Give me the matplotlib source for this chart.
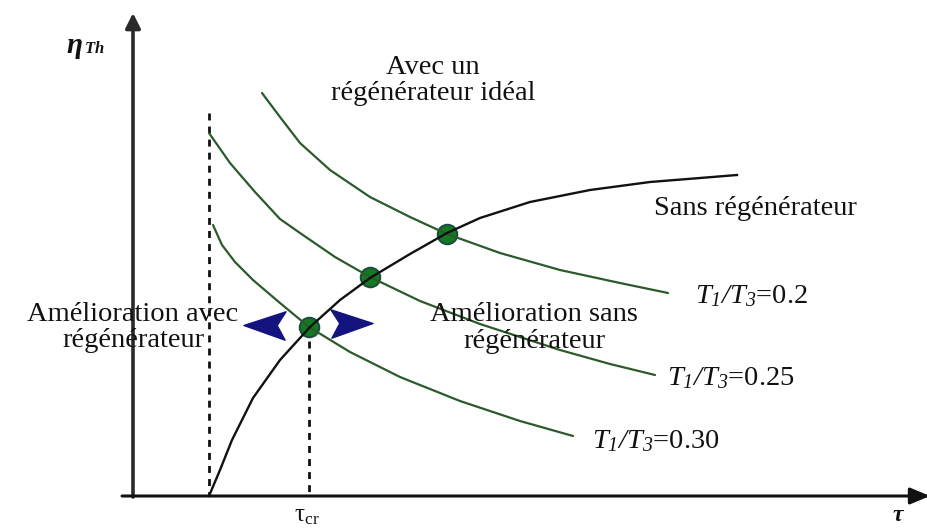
import matplotlib
matplotlib.use("Agg")
import matplotlib.pyplot as plt
from matplotlib.path import Path

plt.rcParams['font.family'] = ['Liberation Serif', 'DejaVu Serif']
plt.rcParams['mathtext.fontset'] = 'custom'
plt.rcParams['mathtext.rm'] = 'Liberation Serif'
plt.rcParams['mathtext.it'] = 'Liberation Serif:italic'
plt.rcParams['mathtext.sf'] = 'Liberation Serif:italic'
plt.rcParams['mathtext.bf'] = 'Liberation Serif:bold:italic'

# --- data (pixel-like coordinates, y grows downward) ---
sans_x = [209, 220, 232, 253, 280, 310, 340, 370, 410, 447, 480, 530, 590, 650, 700, 737]
sans_y = [496, 470, 440, 398, 360, 327, 300, 278, 254, 233, 218, 202, 190, 182, 178, 175]

r020_x = [262, 280, 300, 330, 370, 410, 447, 500, 560, 620, 668]
r020_y = [93, 117, 143, 170, 197, 217, 234, 253, 270, 283, 293]

r025_x = [209, 230, 255, 280, 300, 335, 370, 420, 480, 560, 610, 655]
r025_y = [133, 163, 192, 219, 233, 257, 277, 301, 324, 350, 364, 375]

r030_x = [213, 222, 235, 253, 280, 309, 350, 400, 460, 520, 573]
r030_y = [225, 245, 262, 280, 303, 327, 352, 377, 401, 421, 436]

cross_x = [309, 370, 447]
cross_y = [327, 277, 234]

tau_ref_x = 209      # vertical dashed reference
tau_cr_x = 309       # critical pressure ratio
dash_top = [113, 328]

ratio_labels = [r'$T_{\mathsf{1}}\mathsf{/}T_{\mathsf{3}}$=0.2',
                r'$T_{\mathsf{1}}\mathsf{/}T_{\mathsf{3}}$=0.25',
                r'$T_{\mathsf{1}}\mathsf{/}T_{\mathsf{3}}$=0.30']

# --- figure ---
fig = plt.figure(figsize=(9.28, 5.29), dpi=100)
ax = fig.add_axes([0, 0, 1, 1])
ax.set_xlim(0, 928)
ax.set_ylim(529, 0)
ax.axis('off')

green = '#2b5a2b'
# axes with arrows
ax.annotate('', xy=(133, 13), xytext=(133, 497), annotation_clip=False,
            arrowprops=dict(arrowstyle='-|>,head_length=0.9,head_width=0.45',
                            color='#2a2a2a', lw=2.6, shrinkA=0, shrinkB=0))
ax.annotate('', xy=(930, 496), xytext=(122, 496), annotation_clip=False,
            arrowprops=dict(arrowstyle='-|>,head_length=1.2,head_width=0.5',
                            color='#111111', lw=2.2, shrinkA=0, shrinkB=0))

# dashed lines
ax.plot([tau_ref_x, tau_ref_x], [dash_top[0], 496], color='#111111', lw=2,
        ls=(0, (2.5, 2.2)))
ax.plot([tau_cr_x, tau_cr_x], [dash_top[1], 496], color='#111111', lw=2,
        ls=(0, (2.5, 2.2)))

# intersection markers (below the curves, so lines cross over them)
ax.plot(cross_x, cross_y, 'o', ms=14, mfc='#137a22', mec='#1d4d40', mew=1.5,
        ls='none', zorder=2)

# curves
for xs, ys in [(r020_x, r020_y), (r025_x, r025_y), (r030_x, r030_y)]:
    ax.plot(xs, ys, color=green, lw=1.6, solid_capstyle='round', zorder=3)
ax.plot(sans_x, sans_y, color='#111111', lw=1.7, zorder=3)

# chevrons
chev_r = Path([(22, 0), (-21, 14), (-12, 0), (-20, -15), (22, 0)],
              [Path.MOVETO, Path.LINETO, Path.LINETO, Path.LINETO, Path.CLOSEPOLY])
chev_l = Path([(-22, 0), (21, 14), (12, 0), (20, -15), (-22, 0)],
              [Path.MOVETO, Path.LINETO, Path.LINETO, Path.LINETO, Path.CLOSEPOLY])
chev_x = [265, 351]
chev_y = [325, 323]
ax.plot([chev_x[0]], [chev_y[0]], marker=chev_l, ms=31, color='#14147e', mec='#14147e', ls='none', zorder=6)
ax.plot([chev_x[1]], [chev_y[1]], marker=chev_r, ms=31, color='#14147e', mec='#14147e', ls='none', zorder=6)

fs = 20.5
tc = '#111111'
ax.text(433, 74, 'Avec un', fontsize=fs, ha='center', va='baseline', color=tc)
ax.text(433, 100, 'régénérateur idéal', fontsize=fs, ha='center', va='baseline', color=tc)
ax.text(755, 215, 'Sans régénérateur', fontsize=fs, ha='center', va='baseline', color=tc)
ax.text(534, 321, 'Amélioration sans', fontsize=fs, ha='center', va='baseline', color=tc)
ax.text(534, 348, 'régénérateur', fontsize=fs, ha='center', va='baseline', color=tc)
ax.text(133, 321, 'Amélioration avec', fontsize=fs, ha='center', va='baseline', color=tc)
ax.text(133, 347, 'régénérateur', fontsize=fs, ha='center', va='baseline', color=tc)

ax.text(695, 303, ratio_labels[0], fontsize=fs, ha='left', va='baseline', color=tc)
ax.text(667, 385, ratio_labels[1], fontsize=fs, ha='left', va='baseline', color=tc)
ax.text(592, 448, ratio_labels[2], fontsize=fs, ha='left', va='baseline', color=tc)

ax.text(66, 53, r'$\mathbf{\eta}$', fontsize=21, ha='left', va='baseline', color=tc)
ax.text(84, 53, r'$\mathbf{Th}$', fontsize=12, ha='left', va='baseline', color=tc)
ax.text(294, 521, r'$\mathrm{\tau}_{\mathrm{cr}}$', fontsize=18, ha='left', va='baseline', color=tc)
ax.text(892, 521, r'$\mathbf{\tau}$', fontsize=17, ha='left', va='baseline', color=tc)

fig.savefig('out.png', dpi=100)
